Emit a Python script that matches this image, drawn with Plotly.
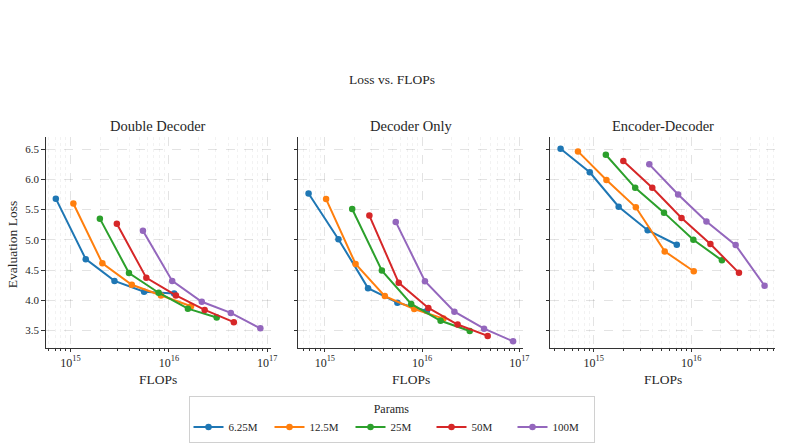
import math
import plotly.graph_objects as go

W, H = 790, 443

params = ["6.25M", "12.5M", "25M", "50M", "100M"]
colors = ["#1f77b4", "#ff7f0e", "#2ca02c", "#d62728", "#9467bd"]
panels = ["Double Decoder", "Decoder Only", "Encoder-Decoder"]

# FLOPs per panel, per param size
dd_flops = [
    [7.1e14, 1.43e15, 2.8e15, 5.6e15, 1.13e16],
    [1.07e15, 2.11e15, 4.2e15, 8.3e15, 1.68e16],
    [1.99e15, 3.93e15, 7.87e15, 1.56e16, 3.06e16],
    [2.96e15, 5.9e15, 1.18e16, 2.31e16, 4.57e16],
    [5.45e15, 1.08e16, 2.16e16, 4.26e16, 8.5e16],
]
dd_loss = [
    [5.68, 4.68, 4.32, 4.14, 4.11],
    [5.60, 4.61, 4.255, 4.08, 3.90],
    [5.35, 4.45, 4.124, 3.86, 3.715],
    [5.265, 4.37, 4.08, 3.84, 3.637],
    [5.15, 4.32, 3.975, 3.79, 3.535],
]
do_flops = [
    [6.8e14, 1.38e15, 2.78e15, 5.57e15, 1.12e16],
    [1.03e15, 2.07e15, 4.14e15, 8.3e15, 1.66e16],
    [1.91e15, 3.86e15, 7.73e15, 1.55e16, 3.09e16],
    [2.87e15, 5.75e15, 1.16e16, 2.32e16, 4.73e16],
    [5.36e15, 1.07e16, 2.15e16, 4.34e16, 8.63e16],
]
do_loss = [
    [5.766, 5.01, 4.20, 3.96, 3.822],
    [5.673, 4.60, 4.069, 3.855, 3.696],
    [5.509, 4.49, 3.938, 3.66, 3.49],
    [5.40, 4.288, 3.872, 3.598, 3.41],
    [5.296, 4.316, 3.81, 3.53, 3.32],
]
ed_flops = [
    [4.57e14, 9.1e14, 1.8e15, 3.57e15, 7.1e15],
    [6.89e14, 1.35e15, 2.7e15, 5.34e15, 1.06e16],
    [1.33e15, 2.66e15, 5.25e15, 1.05e16, 2.06e16],
    [2.01e15, 3.98e15, 7.94e15, 1.57e16, 3.08e16],
    [3.71e15, 7.33e15, 1.43e16, 2.85e16, 5.64e16],
]
ed_loss = [
    [6.505, 6.117, 5.547, 5.159, 4.918],
    [6.462, 5.99, 5.537, 4.808, 4.48],
    [6.407, 5.86, 5.449, 5.00, 4.66],
    [6.303, 5.86, 5.361, 4.929, 4.453],
    [6.248, 5.75, 5.301, 4.912, 4.239],
]
all_flops = [dd_flops, do_flops, ed_flops]
all_loss = [dd_loss, do_loss, ed_loss]

y_ticks = [3.5, 4.0, 4.5, 5.0, 5.5, 6.0, 6.5]
x_major = [1e15, 1e16, 1e17]
x_major_text = ["10<sup>15</sup>", "10<sup>16</sup>", "10<sup>17</sup>"]
x_minor = [m * 10 ** e for e in (14, 15, 16) for m in range(2, 10)]

FONT = "Liberation Serif, Times New Roman, serif"
TXT = "#262626"

# pixel layout
px_x = [(46, 273), (301, 528), (555.3, 781.7)]
px_y = (137.7, 350)

fig = go.Figure()

for p in range(3):
    xa = "x" if p == 0 else f"x{p+1}"
    ya = "y" if p == 0 else f"y{p+1}"
    for i in range(5):
        fig.add_trace(go.Scatter(
            x=all_flops[p][i], y=all_loss[p][i],
            mode="lines+markers", name=params[i],
            legendgroup=params[i], showlegend=(p == 0),
            line=dict(color=colors[i], width=2),
            marker=dict(color=colors[i], size=6.5),
            xaxis=xa, yaxis=ya,
        ))

layout = dict(
    width=W, height=H,
    margin=dict(l=0, r=0, t=0, b=0),
    paper_bgcolor="white", plot_bgcolor="white",
    font=dict(family=FONT, size=12, color=TXT),
    showlegend=True,
)

lo = min(v for P in all_loss for s in P for v in s)
hi = max(v for P in all_loss for s in P for v in s)
pad = (hi - lo) * 0.05
yrange = [lo - pad + 0.055, hi + pad + 0.04]

GRID = "rgba(0,0,0,0.11)"
MGRID = "rgba(0,0,0,0.05)"

for p in range(3):
    lx = [math.log10(v) for s in all_flops[p] for v in s]
    xl, xh = min(lx), max(lx)
    xp = (xh - xl) * 0.05
    sx = "" if p == 0 else str(p + 1)
    layout["xaxis" + sx] = dict(
        type="log",
        domain=[px_x[p][0] / W, px_x[p][1] / W],
        range=[xl - xp, xh + xp],
        anchor="y" + sx,
        tickmode="array", tickvals=x_major, ticktext=x_major_text,
        ticks="outside", ticklen=3.5, tickwidth=1, tickcolor="#333",
        showline=True, linecolor="#333", linewidth=1,
        showgrid=True, gridcolor=GRID, griddash="dash", gridwidth=0.8,
        zeroline=False,
        tickfont=dict(family=FONT, size=12, color=TXT),
        minor=dict(tickmode="array", tickvals=x_minor, ticks="outside",
                   ticklen=2, tickwidth=0.8, tickcolor="#333",
                   showgrid=True, gridcolor=MGRID, griddash="dot", gridwidth=0.6),
    )
    layout["yaxis" + sx] = dict(
        domain=[1 - px_y[1] / H, 1 - px_y[0] / H],
        range=yrange,
        anchor="x" + sx,
        tickmode="array", tickvals=y_ticks,
        ticktext=[f"{v:.1f}" for v in y_ticks],
        showticklabels=(p == 0),
        ticks="outside", ticklen=3.5, tickwidth=1, tickcolor="#333",
        showline=True, linecolor="#333", linewidth=1,
        showgrid=True, gridcolor=GRID, griddash="dash", gridwidth=0.8,
        zeroline=False,
        tickfont=dict(family=FONT, size=11, color=TXT),
    )

annotations = []
annotations.append(dict(text="Loss vs. FLOPs", x=395 / W, y=1 - 80 / H,
                        xref="paper", yref="paper", showarrow=False,
                        font=dict(family=FONT, size=13.5, color=TXT),
                        xanchor="center", yanchor="middle"))
for p in range(3):
    cx = (px_x[p][0] + px_x[p][1]) / 2
    annotations.append(dict(text=panels[p], x=cx / W, y=1 - 127 / H,
                            xref="paper", yref="paper", showarrow=False,
                            font=dict(family=FONT, size=14.5, color=TXT),
                            xanchor="center", yanchor="middle"))
    annotations.append(dict(text="FLOPs", x=cx / W, y=1 - 382 / H,
                            xref="paper", yref="paper", showarrow=False,
                            font=dict(family=FONT, size=13.5, color=TXT),
                            xanchor="center", yanchor="middle"))
annotations.append(dict(text="Evaluation Loss", x=12 / W, y=1 - 246 / H,
                        xref="paper", yref="paper", showarrow=False, textangle=-90,
                        font=dict(family=FONT, size=13.5, color=TXT),
                        xanchor="center", yanchor="middle"))
layout["annotations"] = annotations

layout["legend"] = dict(
    orientation="h",
    x=395 / W, xanchor="center",
    y=1 - 399 / H, yanchor="top",
    bordercolor="#d0d0d0", borderwidth=1, bgcolor="white",
    title=dict(text="Params", side="top center", font=dict(family=FONT, size=12, color=TXT)),
    font=dict(family=FONT, size=11, color=TXT),
    entrywidth=36, entrywidthmode="pixels",
    itemwidth=30, tracegroupgap=0,
)

fig.update_layout(**layout)
fig.write_html("out.html")
